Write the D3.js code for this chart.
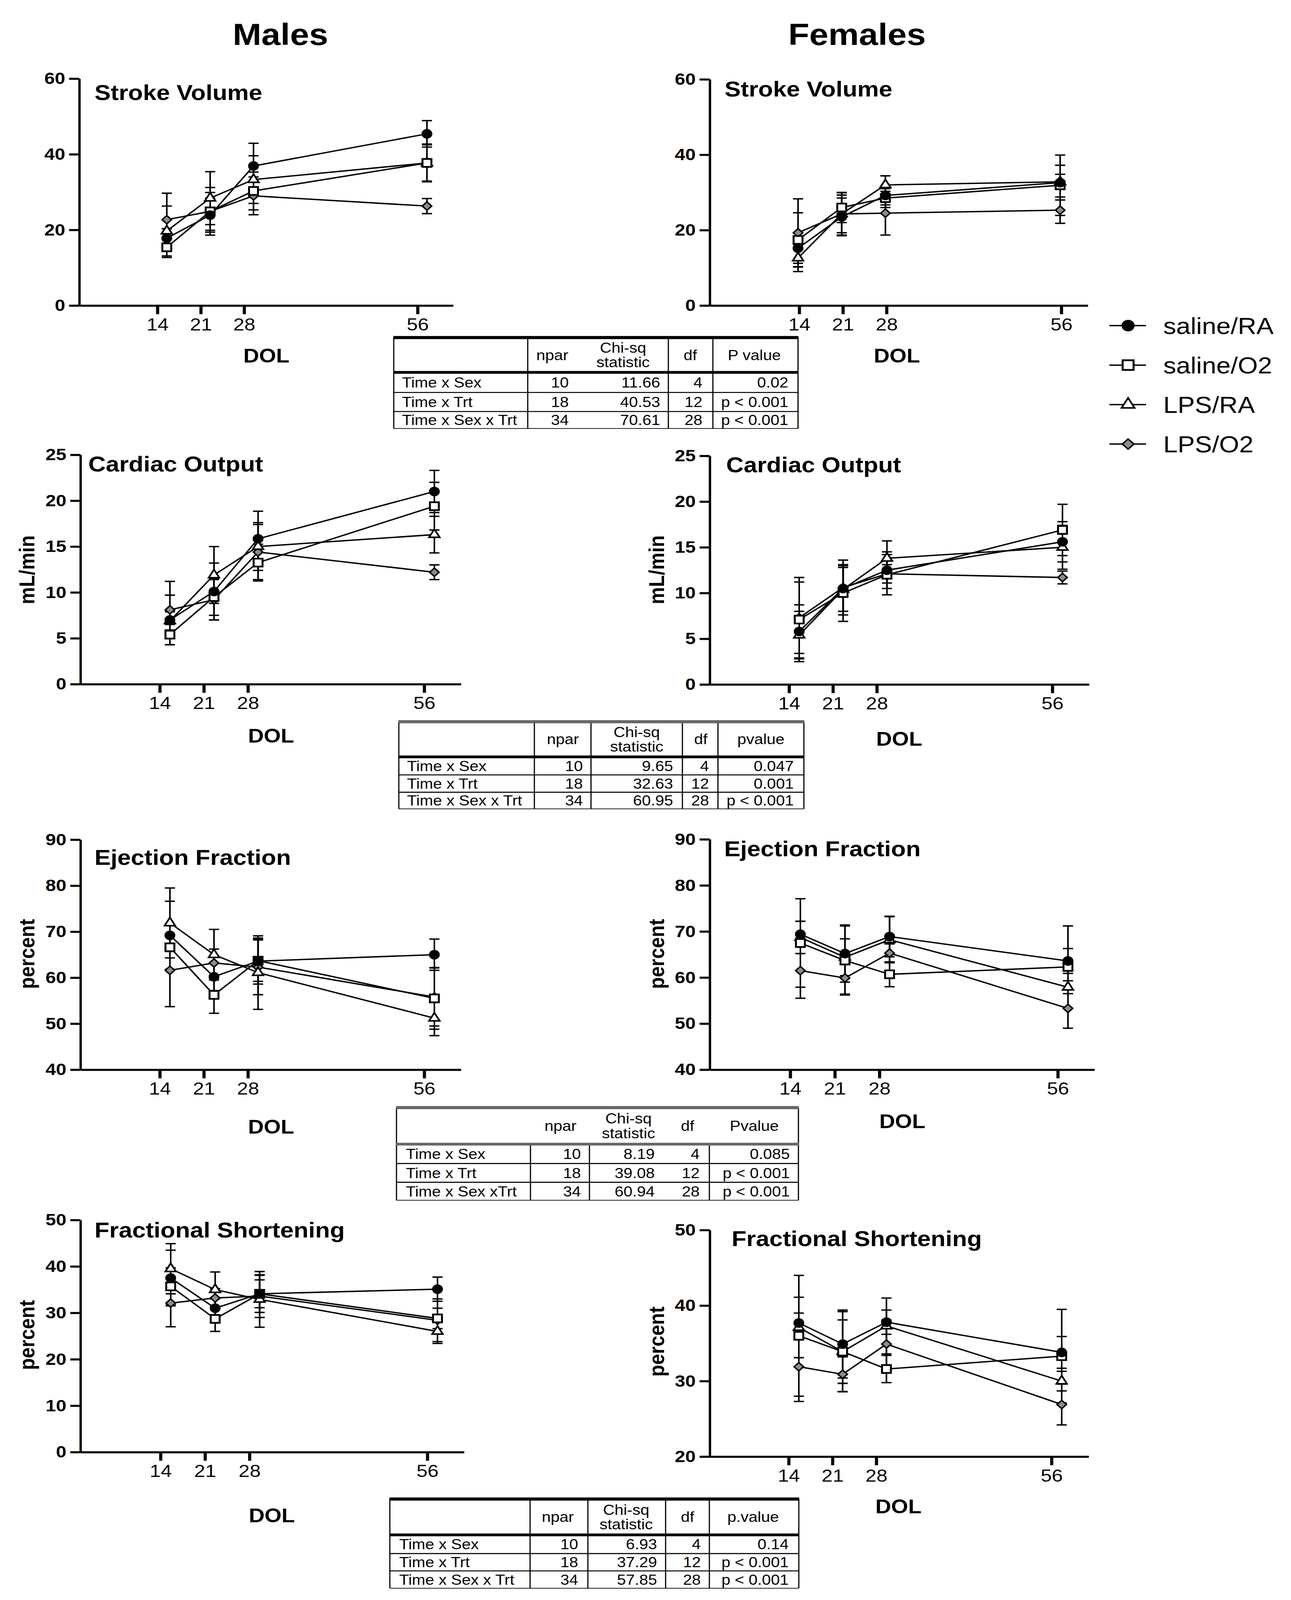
<!DOCTYPE html>
<html>
<head>
<meta charset="utf-8">
<script src="https://cdn.jsdelivr.net/npm/d3@7"></script>
<style>
  html, body { margin: 0; padding: 0; background: #fff; overflow: hidden; }
  svg { display: block; width: 100vw; height: 100vh; }
  text { font-family: "Liberation Sans", Arial, sans-serif; fill: #000; }
</style>
</head>
<body>
<svg id="chart" viewBox="0 0 3305 4619" preserveAspectRatio="none"></svg>
<script>
// ---- data ----
var days = [14, 21, 28, 56];
var groups = ["saline/RA", "saline/O2", "LPS/RA", "LPS/O2"];

// mean values, one row per group (saline/RA, saline/O2, LPS/RA, LPS/O2)
var svMale = [[17.8, 23.9, 36.9, 45.4], [15.4, 24.9, 30.3, 37.7], [19.7, 28.4, 33.3, 37.7], [22.7, 24.9, 29.0, 26.3]];
var svMaleErr = [[2.5, 4.5, 6.0, 3.5], [2.7, 6.3, 5.0, 5.0], [6.6, 7.0, 6.3, 4.8], [7.0, 5.0, 5.0, 2.0]];
var svFemale = [[15.2, 23.5, 29.2, 32.6], [17.4, 26.0, 28.5, 31.9], [12.6, 24.3, 32.0, 32.8], [19.3, 24.3, 24.5, 25.3]];
var svFemaleErr = [[4.0, 5.0, 2.5, 4.6], [7.2, 4.0, 2.5, 8.0], [3.6, 5.6, 2.4, 2.0], [9.0, 5.0, 5.8, 3.5]];

var coMale = [[7.0, 10.1, 15.85, 21.0], [5.4, 9.5, 13.25, 19.4], [6.9, 11.9, 15.0, 16.3], [8.1, 9.2, 14.4, 12.2]];
var coMaleErr = [[2.7, 3.1, 3.0, 2.3], [1.1, 2.0, 2.0, 2.6], [1.0, 3.1, 2.6, 2.0], [3.1, 2.2, 3.0, 0.8]];
var coFemale = [[5.8, 10.5, 12.5, 15.6], [7.1, 10.0, 12.0, 16.9], [5.4, 10.4, 13.8, 15.0], [7.3, 10.6, 12.1, 11.7]];
var coFemaleErr = [[2.9, 2.5, 2.0, 2.2], [4.6, 3.1, 2.2, 2.8], [2.6, 2.4, 1.9, 2.4], [3.9, 3.0, 1.0, 0.7]];

var efMale = [[69.2, 60.2, 63.6, 65.0], [66.6, 56.25, 63.7, 55.5], [71.9, 65.0, 61.1, 51.2], [61.6, 63.2, 62.3, 55.8]];
var efMaleErr = [[7.4, 3.0, 5.0, 3.4], [5.0, 4.0, 4.5, 6.7], [7.6, 5.5, 8.0, 3.8], [7.9, 3.0, 6.0, 6.3]];
var efFemale = [[69.4, 65.2, 68.9, 63.6], [67.5, 63.7, 60.7, 62.3], [68.7, 64.4, 68.2, 57.9], [61.5, 59.9, 65.3, 53.3]];
var efFemaleErr = [[2.8, 6.2, 4.4, 2.7], [9.6, 7.5, 2.7, 8.9], [3.5, 4.0, 5.0, 1.4], [6.0, 3.5, 2.0, 4.3]];

var fsMale = [[37.5, 31.0, 34.1, 35.1], [35.7, 28.7, 34.1, 28.8], [39.5, 35.0, 32.9, 26.0], [32.1, 33.2, 33.6, 28.4]];
var fsMaleErr = [[6.0, 2.0, 4.0, 2.6], [4.0, 2.7, 3.0, 2.2], [5.4, 3.8, 6.0, 2.6], [5.1, 2.0, 4.6, 4.6]];
var fsFemale = [[37.7, 34.9, 37.8, 33.8], [36.0, 33.9, 31.6, 33.3], [37.1, 33.9, 37.3, 30.0], [31.9, 30.9, 34.9, 26.9]];
var fsFemaleErr = [[1.3, 4.5, 1.6, 2.1], [8.0, 5.3, 1.8, 6.2], [4.0, 4.2, 3.7, 1.3], [4.6, 2.3, 3.2, 2.7]];

// tables
var statRows = ["Time x Sex", "Time x Trt", "Time x Sex x Trt"];
var statRows3 = ["Time x Sex", "Time x Trt", "Time x Sex xTrt"];
var npar = [10, 18, 34];
var dfs = [4, 12, 28];
var chiSV = ["11.66", "40.53", "70.61"], pSV = ["0.02", "p < 0.001", "p < 0.001"];
var chiCO = ["9.65", "32.63", "60.95"], pCO = ["0.047", "0.001", "p < 0.001"];
var chiEF = ["8.19", "39.08", "60.94"], pEF = ["0.085", "p < 0.001", "p < 0.001"];
var chiFS = ["6.93", "37.29", "57.85"], pFS = ["0.14", "p < 0.001", "p < 0.001"];

// ---- drawing ----
// the figure is laid out on a 3305 x 4619 canvas; the viewBox stretches it to whatever the window gives
var svg = d3.select("#chart");
var font = '"Liberation Sans", Arial, sans-serif';

svg.append("text").attr("x", 718).attr("y", 130).attr("text-anchor", "middle")
  .attr("font-size", 88).attr("font-weight", "bold").text("Males");
svg.append("text").attr("x", 2194).attr("y", 130).attr("text-anchor", "middle")
  .attr("font-size", 88).attr("font-weight", "bold").text("Females");

var symbolOf = [
  { type: d3.symbolCircle, size: 520, fill: "#000", sw: 2, rot: 0 },
  { type: d3.symbolSquare, size: 520, fill: "#fff", sw: 5, rot: 0 },
  { type: d3.symbolTriangle, size: 320, fill: "#fff", sw: 4.5, rot: 0 },
  { type: d3.symbolSquare, size: 290, fill: "#8c8c8c", sw: 4, rot: 45 }
];
var drawOrder = [3, 2, 1, 0];

function drawPanel(p, mean, err) {
  var x = d3.scaleLinear().domain([14, 56]).range([p.t14, p.t56]);
  x.domain([x.invert(p.x0), x.invert(p.x1)]).range([p.x0, p.x1]);
  var y = d3.scaleLinear().domain(p.yDomain).range([p.yBot, p.yTop]);
  var g = svg.append("g");

  var xa = g.append("g").attr("transform", "translate(0," + p.yBot + ")")
    .call(d3.axisBottom(x).tickValues(days).tickSize(25).tickSizeOuter(0).tickPadding(11));
  xa.attr("font-family", font).attr("font-size", 51);
  xa.select(".domain").attr("stroke-width", 6);
  xa.selectAll(".tick line").attr("stroke-width", 8);

  var ya = g.append("g").attr("transform", "translate(" + p.x0 + ",0)")
    .call(d3.axisLeft(y).tickValues(d3.range(p.yDomain[0], p.yDomain[1] + 1, p.yStep))
      .tickSize(26).tickSizeOuter(0).tickPadding(10));
  ya.attr("font-family", font).attr("font-size", 48).attr("font-weight", "bold");
  ya.select(".domain").attr("stroke-width", 6);
  ya.selectAll(".tick line").attr("stroke-width", 6);

  g.append("text").attr("x", p.titleX).attr("y", p.titleY)
    .attr("font-size", 62).attr("font-weight", "bold").text(p.title);
  g.append("text").attr("x", p.dolX).attr("y", p.dolY).attr("text-anchor", "middle")
    .attr("font-size", 56).attr("font-weight", "bold").text("DOL");
  if (p.ylabel) {
    g.append("text").attr("transform", "translate(" + p.ylabX + "," + p.ylabY + ") rotate(-90)")
      .attr("text-anchor", "middle").attr("dy", "0.36em")
      .attr("font-size", 56).attr("font-weight", "bold").text(p.ylabel);
  }

  var px = function (j) { return x(days[j]) + p.shift; };
  var line = d3.line().x(function (d, j) { return px(j); }).y(function (d) { return y(d); });

  // error bars
  drawOrder.forEach(function (i) {
    mean[i].forEach(function (m, j) {
      var lo = y(m - err[i][j]), hi = y(m + err[i][j]), cx = px(j);
      g.append("path")
        .attr("d", "M" + cx + "," + lo + "V" + hi + "M" + (cx - 13) + "," + hi + "H" + (cx + 13) +
          "M" + (cx - 13) + "," + lo + "H" + (cx + 13))
        .attr("fill", "none").attr("stroke", "#000").attr("stroke-width", 4);
    });
  });
  // lines
  drawOrder.forEach(function (i) {
    g.append("path").datum(mean[i]).attr("d", line)
      .attr("fill", "none").attr("stroke", "#000").attr("stroke-width", 4);
  });
  // markers
  drawOrder.forEach(function (i) {
    var s = symbolOf[i];
    g.selectAll(null).data(mean[i]).enter().append("path")
      .attr("d", d3.symbol().type(s.type).size(s.size))
      .attr("transform", function (d, j) { return "translate(" + px(j) + "," + y(d) + ") rotate(" + s.rot + ")"; })
      .attr("fill", s.fill).attr("stroke", "#000").attr("stroke-width", s.sw);
  });
}

var panels = [
  { title: "Stroke Volume", yDomain: [0, 60], yStep: 20, x0: 203, x1: 1160, yTop: 227, yBot: 882, t14: 403, t56: 1069, shift: 24,
    titleX: 242, titleY: 289, dolX: 682, dolY: 1046, mean: svMale, err: svMaleErr },
  { title: "Stroke Volume", yDomain: [0, 60], yStep: 20, x0: 1817, x1: 2785, yTop: 229, yBot: 882, t14: 2046, t56: 2717, shift: -3,
    titleX: 1855, titleY: 278, dolX: 2296, dolY: 1047, mean: svFemale, err: svFemaleErr },
  { title: "Cardiac Output", yDomain: [0, 25], yStep: 5, x0: 206, x1: 1180, yTop: 1313, yBot: 1975, t14: 409, t56: 1086, shift: 26,
    titleX: 226, titleY: 1361, dolX: 694, dolY: 2144, ylabel: "mL/min", ylabX: 68, ylabY: 1645, mean: coMale, err: coMaleErr },
  { title: "Cardiac Output", yDomain: [0, 25], yStep: 5, x0: 1817, x1: 2788, yTop: 1316, yBot: 1976, t14: 2020, t56: 2694, shift: 26,
    titleX: 1859, titleY: 1363, dolX: 2302, dolY: 2153, ylabel: "mL/min", ylabX: 1680, ylabY: 1645, mean: coFemale, err: coFemaleErr },
  { title: "Ejection Fraction", yDomain: [40, 90], yStep: 10, x0: 206, x1: 1180, yTop: 2424, yBot: 3088, t14: 409, t56: 1086, shift: 26,
    titleX: 242, titleY: 2497, dolX: 694, dolY: 3273, ylabel: "percent", ylabX: 68, ylabY: 2754, mean: efMale, err: efMaleErr },
  { title: "Ejection Fraction", yDomain: [40, 90], yStep: 10, x0: 1817, x1: 2802, yTop: 2423, yBot: 3088, t14: 2023, t56: 2708, shift: 26,
    titleX: 1854, titleY: 2472, dolX: 2310, dolY: 3257, ylabel: "percent", ylabX: 1680, ylabY: 2754, mean: efFemale, err: efFemaleErr },
  { title: "Fractional Shortening", yDomain: [0, 50], yStep: 10, x0: 206, x1: 1188, yTop: 3522, yBot: 4192, t14: 411, t56: 1094, shift: 26,
    titleX: 242, titleY: 3572, dolX: 696, dolY: 4395, ylabel: "percent", ylabX: 68, ylabY: 3854, mean: fsMale, err: fsMaleErr },
  { title: "Fractional Shortening", yDomain: [20, 50], yStep: 10, x0: 1817, x1: 2787, yTop: 3551, yBot: 4205, t14: 2019, t56: 2692, shift: 26,
    titleX: 1873, titleY: 3597, dolX: 2300, dolY: 4369, ylabel: "percent", ylabX: 1680, ylabY: 3873, mean: fsFemale, err: fsFemaleErr }
];
panels.forEach(function (p) { drawPanel(p, p.mean, p.err); });

// legend
var legY0 = 940, legStep = 114;
groups.forEach(function (name, i) {
  var gy = legY0 + i * legStep, s = symbolOf[i];
  svg.append("line").attr("x1", 2840).attr("x2", 2934).attr("y1", gy).attr("y2", gy)
    .attr("stroke", "#000").attr("stroke-width", 4);
  svg.append("path").attr("d", d3.symbol().type(s.type).size(s.size * 1.5))
    .attr("transform", "translate(2888," + gy + ") rotate(" + s.rot + ")")
    .attr("fill", s.fill).attr("stroke", "#000").attr("stroke-width", s.sw);
  svg.append("text").attr("x", 2978).attr("y", gy).attr("dy", "0.36em")
    .attr("font-size", 66).text(name);
});

// tables
function drawTable(t, labels, chi, pv) {
  var g = svg.append("g");
  var bottom = t.rowLines[2];
  var fs = 41;
  g.append("line").attr("x1", t.x0).attr("x2", t.x0).attr("y1", t.yTop).attr("y2", bottom).attr("stroke", "#000").attr("stroke-width", 3);
  g.append("line").attr("x1", t.x1).attr("x2", t.x1).attr("y1", t.yTop).attr("y2", bottom).attr("stroke", "#000").attr("stroke-width", 3);
  t.vlines.forEach(function (vx) {
    g.append("line").attr("x1", vx).attr("x2", vx).attr("y1", t.headVert ? t.yTop : t.yHead).attr("y2", bottom)
      .attr("stroke", "#000").attr("stroke-width", 3);
  });
  t.rowLines.forEach(function (ry, k) {
    g.append("line").attr("x1", t.x0).attr("x2", t.x1).attr("y1", ry).attr("y2", ry)
      .attr("stroke", "#000").attr("stroke-width", k < 2 ? 3 : 2);
  });
  g.append("rect").attr("x", t.x0 - 1).attr("y", t.yTop - 4).attr("width", t.x1 - t.x0 + 2).attr("height", 9).attr("fill", t.topColor);
  g.append("rect").attr("x", t.x0 - 1).attr("y", t.yHead - 4).attr("width", t.x1 - t.x0 + 2).attr("height", 8).attr("fill", t.headColor);

  var hc = (t.yTop + t.yHead) / 2;
  var txt = function (x, y, s, anchor) {
    g.append("text").attr("x", x).attr("y", y).attr("dy", "0.36em").attr("text-anchor", anchor)
      .attr("font-size", fs).text(s);
  };
  txt(t.hc[0], hc, "npar", "middle");
  txt(t.hc[1], hc - 21, "Chi-sq", "middle");
  txt(t.hc[1], hc + 21, "statistic", "middle");
  txt(t.hc[2], hc, "df", "middle");
  txt(t.hc[3], hc, t.pHead, "middle");

  labels.forEach(function (lab, r) {
    var top = r === 0 ? t.yHead : t.rowLines[r - 1];
    var cy = (top + t.rowLines[r]) / 2;
    txt(t.labelX, cy, lab, "start");
    txt(t.rc[0], cy, npar[r], "end");
    txt(t.rc[1], cy, chi[r], "end");
    txt(t.rc[2], cy, dfs[r], "end");
    txt(t.rc[3], cy, pv[r], "end");
  });
}

drawTable({ x0: 1008, x1: 2043, yTop: 974, yHead: 1075, rowLines: [1133, 1188, 1237], vlines: [1351, 1711, 1825], headVert: true,
  topColor: "#000", headColor: "#000", labelX: 1029, rc: [1456, 1690, 1798, 2018], hc: [1414, 1595, 1767, 1931], pHead: "P value" },
  statRows, chiSV, pSV);
drawTable({ x0: 1021, x1: 2058, yTop: 2083, yHead: 2185, rowLines: [2237, 2287, 2335], vlines: [1368, 1513, 1747, 1838], headVert: true,
  topColor: "#666", headColor: "#000", labelX: 1042, rc: [1492, 1723, 1815, 2032], hc: [1441, 1630, 1794, 1948], pHead: "pvalue" },
  statRows, chiCO, pCO);
drawTable({ x0: 1015, x1: 2044, yTop: 3197, yHead: 3303, rowLines: [3359, 3413, 3465], vlines: [1358, 1509, 1816], headVert: false,
  topColor: "#666", headColor: "#666", labelX: 1039, rc: [1487, 1676, 1791, 2022], hc: [1435, 1609, 1760, 1931], pHead: "Pvalue" },
  statRows3, chiEF, pEF);
drawTable({ x0: 998, x1: 2045, yTop: 4327, yHead: 4431, rowLines: [4485, 4535, 4585], vlines: [1357, 1505, 1704, 1816], headVert: true,
  topColor: "#000", headColor: "#000", labelX: 1022, rc: [1480, 1682, 1794, 2019], hc: [1428, 1603, 1760, 1928], pHead: "p.value" },
  statRows, chiFS, pFS);
</script>
</body>
</html>
